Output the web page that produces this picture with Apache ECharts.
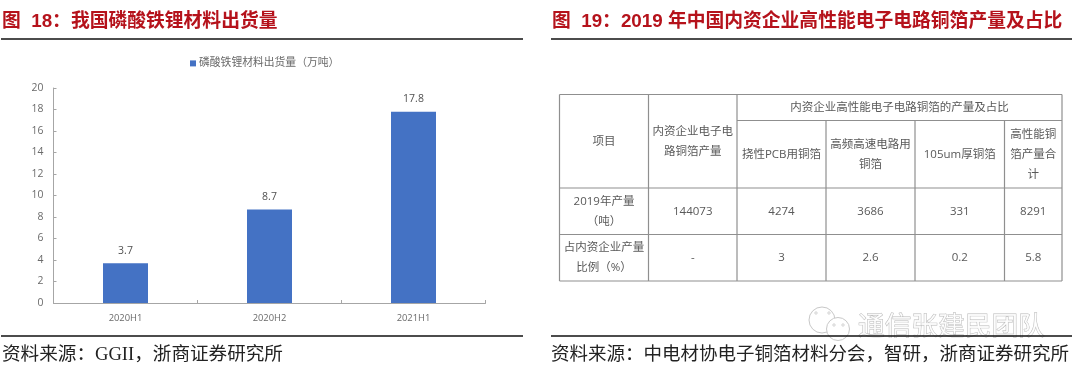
<!DOCTYPE html>
<html>
<head>
<meta charset="utf-8">
<style>
html, body { margin: 0; padding: 0; background: #fff; }
#chart { width: 1080px; height: 373px; }
</style>
<script src="https://cdn.jsdelivr.net/npm/echarts@6/dist/echarts.min.js"></script>
</head>
<body>
<div id="chart"></div>
<script>
// Figure 18
const periods = ["2020H1", "2020H2", "2021H1"];
const shipments = [3.7, 8.7, 17.8];
const seriesName = "磷酸铁锂材料出货量（万吨）";

// Titles and sources
const leftTitle = "图  18：我国磷酸铁锂材料出货量";
const rightTitle = "图  19：2019 年中国内资企业高性能电子电路铜箔产量及占比";
const leftSource = "资料来源：GGII，浙商证券研究所";
const rightSource = "资料来源：中电材协电子铜箔材料分会，智研，浙商证券研究所";
const watermark = "通信张建民团队";

// Figure 19 table
const rowItem = "项目";
const colDomestic = "内资企业电子电\n路铜箔产量";
const colGroup = "内资企业高性能电子电路铜箔的产量及占比";
const subHeaders = ["挠性PCB用铜箔", "高频高速电路用\n铜箔", "105um厚铜箔", "高性能铜\n箔产量合\n计"];
const rowOutput = ["2019年产量\n（吨）", "144073", "4274", "3686", "331", "8291"];
const rowShare = ["占内资企业产量\n比例（%）", "-", "3", "2.6", "0.2", "5.8"];

const cjk = '"Open Sans", "Noto Sans CJK SC", sans-serif';
const serif = '"Liberation Serif", "Noto Sans CJK SC", serif';
const bold = 'bold 18.8px "Liberation Sans", "Noto Sans CJK SC", sans-serif';
const colX = [559.5, 648.5, 737, 826, 915, 1004.5, 1062];
const rowY = [94.5, 120.5, 188, 234.5, 281];
const gridColor = "#8f8f8f";
const cellColor = "#595959";
const markColor = "#c8c8c8";

function hLine(x1, x2, y, color, width) {
    return { type: "line", silent: true, shape: { x1: x1, y1: y, x2: x2, y2: y }, style: { stroke: color, lineWidth: width } };
}
function vLine(x, y1, y2, color, width) {
    return { type: "line", silent: true, shape: { x1: x, y1: y1, x2: x, y2: y2 }, style: { stroke: color, lineWidth: width } };
}
function cell(text, x1, x2, y1, y2) {
    return {
        type: "text", silent: true, x: (x1 + x2) / 2, y: (y1 + y2) / 2,
        style: { text: text, fill: cellColor, font: "11.5px " + cjk, align: "center", verticalAlign: "middle", lineHeight: 20 }
    };
}
function label(text, x, y, font, fill) {
    return { type: "text", silent: true, x: x, y: y, style: { text: text, font: font, fill: fill, verticalAlign: "middle" } };
}
function bubble(cx, cy, r) {
    return { type: "circle", silent: true, shape: { cx: cx, cy: cy, r: r }, style: { fill: "#fff", stroke: markColor, lineWidth: 1 } };
}
function eye(cx, cy) {
    return { type: "circle", silent: true, shape: { cx: cx, cy: cy, r: 1.2 }, style: { fill: "#fff", stroke: markColor, lineWidth: 0.8 } };
}

let elements = [];

// Watermark goes under the rules
elements.push(bubble(822, 320, 13));
elements.push(eye(816, 313));
elements.push(eye(829, 313));
elements.push(bubble(838, 329, 11.5));
elements.push(eye(834, 325));
elements.push(eye(843, 325));
elements.push({
    type: "text", silent: true, x: 858, y: 325,
    style: { text: watermark, font: '26.7px "Noto Sans CJK SC", sans-serif', fill: "rgba(255,255,255,0.8)", stroke: "#b8b8b8", lineWidth: 0.9, verticalAlign: "middle" }
});

// Headings and rules
elements.push(label(leftTitle, 2, 22, bold, "#b5121b"));
elements.push(label(rightTitle, 552, 22, bold, "#b5121b"));
elements.push(hLine(1, 523, 39, "#111", 1.5));
elements.push(hLine(551, 1072, 39, "#111", 1.5));
elements.push(hLine(1, 523, 336, "#111", 1.5));
elements.push(hLine(551, 1072, 336, "#111", 1.5));
elements.push(label(leftSource, 2, 355, "18.6px " + serif, "#222"));
elements.push(label(rightSource, 551, 355, "18.5px " + serif, "#222"));

// Table grid
elements.push(hLine(colX[0], colX[6], rowY[0], gridColor, 1.2));
elements.push(hLine(colX[2], colX[6], rowY[1], gridColor, 1.2));
elements.push(hLine(colX[0], colX[6], rowY[2], gridColor, 1.2));
elements.push(hLine(colX[0], colX[6], rowY[3], gridColor, 1.2));
elements.push(hLine(colX[0], colX[6], rowY[4], gridColor, 1.2));
[0, 1, 2, 6].forEach(i => elements.push(vLine(colX[i], rowY[0], rowY[4], gridColor, 1.2)));
[3, 4, 5].forEach(i => elements.push(vLine(colX[i], rowY[1], rowY[4], gridColor, 1.2)));

// Table text
elements.push(cell(rowItem, colX[0], colX[1], rowY[0], rowY[2]));
elements.push(cell(colDomestic, colX[1], colX[2], rowY[0], rowY[2]));
elements.push(cell(colGroup, colX[2], colX[6], rowY[0], rowY[1]));
subHeaders.forEach((t, i) => elements.push(cell(t, colX[i + 2], colX[i + 3], rowY[1], rowY[2])));
rowOutput.forEach((t, i) => elements.push(cell(t, colX[i], colX[i + 1], rowY[2], rowY[3])));
rowShare.forEach((t, i) => elements.push(cell(t, colX[i], colX[i + 1], rowY[3], rowY[4])));

const myChart = echarts.init(document.getElementById("chart"), null, { renderer: "canvas" });
const option = {
    animation: false,
    backgroundColor: "#fff",
    textStyle: { fontFamily: cjk },
    legend: {
        top: 53,
        left: 185,
        itemWidth: 6,
        itemHeight: 6,
        itemGap: 3,
        icon: "rect",
        textStyle: { fontSize: 10.8, color: "#6a6a6a", fontFamily: cjk, padding: [0, 0, 0, -2] },
        data: [seriesName]
    },
    grid: { left: 53.5, right: 1080 - 485.5, top: 88, bottom: 373 - 303 },
    xAxis: {
        type: "category",
        data: periods,
        axisLine: { lineStyle: { color: "#a6a6a6", width: 1 } },
        axisTick: { show: true, inside: true, length: 3, alignWithLabel: false, lineStyle: { color: "#a6a6a6" } },
        axisLabel: { color: "#6a6a6a", fontSize: 9.4, margin: 11 }
    },
    yAxis: {
        type: "value",
        min: 0,
        max: 20,
        interval: 2,
        splitLine: { show: false },
        axisLine: { show: true, lineStyle: { color: "#a6a6a6", width: 1 } },
        axisTick: { show: true, inside: true, length: 3, lineStyle: { color: "#a6a6a6" } },
        axisLabel: { color: "#6a6a6a", fontSize: 10.4, margin: 10 }
    },
    series: [{
        name: seriesName,
        type: "bar",
        barWidth: 45,
        data: shipments,
        itemStyle: { color: "#4472c4" },
        label: { show: true, position: "top", distance: 7, color: "#505050", fontSize: 10.5 }
    }],
    graphic: { elements: elements }
};
myChart.setOption(option);
</script>
</body>
</html>
